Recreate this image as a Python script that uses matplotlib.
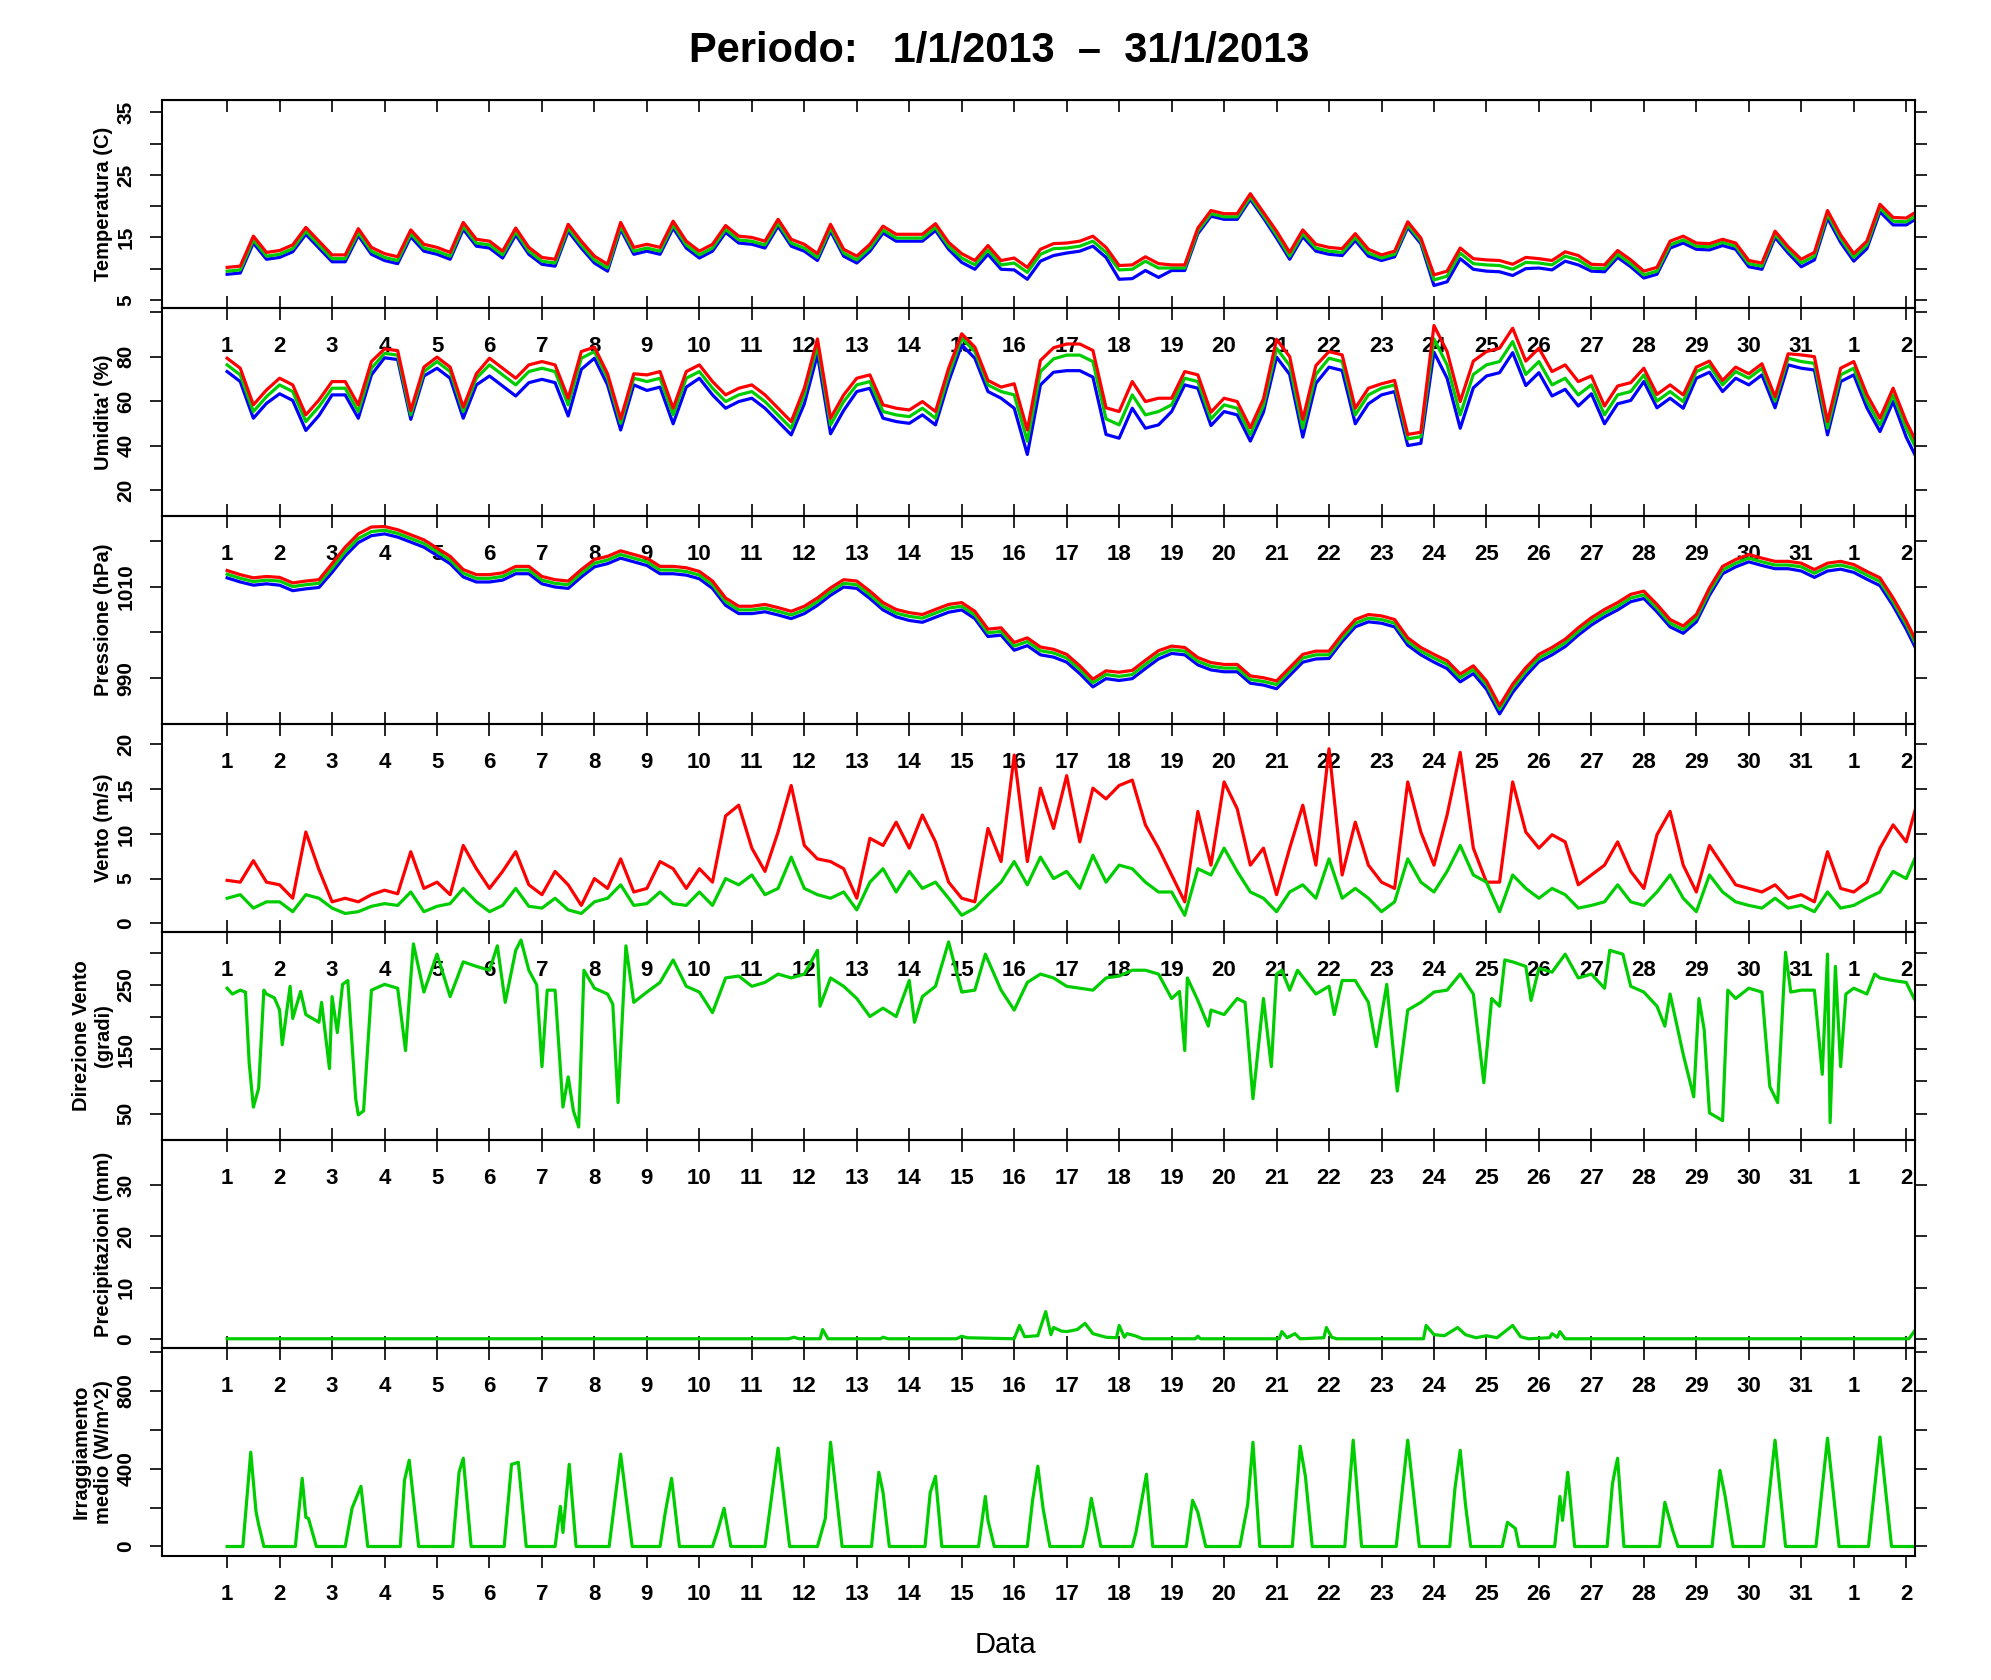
import numpy as np
import matplotlib
matplotlib.use("Agg")
import matplotlib.pyplot as plt

plt.rcParams['font.family'] = ['Liberation Sans', 'DejaVu Sans']

# ---- dati (passo 6 ore, dal giorno 1 alle 00) ----
temp_mean = [
    9.6, 9.8, 14.6, 12.0,   12.3, 13.2, 16.0, 13.8,   11.6, 11.6, 15.8, 12.8,
    11.8, 11.3, 15.6, 13.3, 12.8, 12.0, 16.8, 14.1,   13.8, 12.2, 15.9, 12.8,
    11.2, 10.9, 16.5, 13.8, 11.4, 10.1, 16.8, 12.8,   13.3, 12.8, 17.0, 13.8,
    12.2, 13.3, 16.3, 14.6, 14.4, 13.8, 17.3, 14.1,   13.3, 11.8, 16.5, 12.5,
    11.4, 13.3, 16.2, 14.9, 14.9, 14.9, 16.6, 13.6,   11.7, 10.6, 13.0, 10.6,
    10.9, 9.4, 12.3, 13.2,  13.3, 13.6, 14.4, 12.6,   9.8, 9.9, 11.2, 10.1,
    10.1, 10.1, 16.0, 18.8, 18.3, 18.3, 21.5, 18.5,   15.4, 12.0, 15.6, 13.3,
    12.8, 12.6, 15.0, 12.5, 11.7, 12.3, 17.0, 14.4,   8.2, 8.8, 12.5, 10.8,
    10.6, 10.5, 9.9, 11.0,  10.9, 10.6, 12.0, 11.4,   10.1, 10.0, 12.3, 10.8,
    9.0, 9.6, 13.8, 14.6,   13.6, 13.5, 14.2, 13.6,   10.8, 10.4, 15.5, 13.0,
    10.9, 12.0, 18.7, 14.8, 11.8, 13.8, 19.7, 17.6,   17.5, 18.8]
# scarto giornaliero di max e min rispetto alla media
temp_max_off = [0.6, 0.6, 0.6, 0.6, 0.6, 0.6, 0.6, 0.6, 0.6, 0.6, 0.6, 0.6, 0.6, 0.6, 0.7, 0.8, 0.8,
                0.7, 0.5, 0.5, 0.6, 0.6, 0.5, 0.8, 0.8, 0.7, 0.6, 0.6, 0.5, 0.5, 0.6, 0.6, 0.6]
temp_min_off = [0.5, 0.5, 0.5, 0.5, 0.5, 0.5, 0.5, 0.5, 0.5, 0.5, 0.5, 0.5, 0.5, 0.5, 0.7, 1.1, 0.8,
                1.5, 0.4, 0.4, 0.5, 0.5, 0.4, 0.9, 1.0, 0.8, 0.5, 0.5, 0.5, 0.5, 0.6, 0.6, 0.5]

hum_mean = [
    76.3, 71.8, 55.3, 62.0, 67.3, 64.3, 50.8, 57.5, 65.8, 65.8, 55.3, 74.8,
    81.5, 80.7, 53.8, 73.3, 77.8, 73.3, 55.3, 70.3, 76.3, 71.8, 67.3, 73.3,
    74.8, 73.3, 58.3, 79.3, 82.3, 70.3, 50.0, 70.3, 68.8, 70.3, 53.8, 70.3,
    73.3, 65.8, 59.8, 62.8, 64.3, 59.8, 53.8, 47.8, 62.8, 85.0, 49.3, 59.8,
    67.3, 68.8, 55.3, 53.8, 53.0, 56.8, 52.3, 71.8, 88.3, 82.3, 67.3, 64.3,
    62.8, 42.0, 73.3, 79.0, 80.7, 80.7, 77.8, 52.0, 49.3, 62.8, 53.8, 55.3,
    58.3, 70.3, 68.8, 52.0, 58.3, 56.8, 45.0, 58.0, 83.8, 76.0, 47.8, 72.0,
    79.3, 77.8, 53.8, 62.8, 65.8, 67.3, 43.0, 44.0, 88.0, 76.3, 53.8, 72.0,
    76.3, 77.8, 86.8, 72.0, 77.8, 67.3, 70.3, 62.8, 67.3, 53.8, 62.8, 64.3,
    71.8, 60.0, 64.3, 59.8, 73.3, 76.0, 67.3, 73.3, 70.3, 74.8, 60.0, 79.3,
    77.8, 77.0, 47.8, 71.8, 74.8, 60.0, 49.3, 62.8, 47.8, 35.8]
hum_max_off = [3, 3, 3, 2, 2, 3, 3, 2, 3, 3, 3, 3, 3, 3, 2, 5, 5, 6, 3, 3, 4, 3, 2, 6, 6, 6, 4, 3, 2, 2, 3, 3, 3]
hum_min_off = [3, 4, 3, 2, 3, 5, 5, 3, 4, 3, 3, 4, 3, 3, 3, 6, 7, 6, 3, 3, 4, 4, 3, 6, 5, 5, 4, 3, 3, 3, 3, 3, 4]

pres_mean = [
    1012.7, 1011.8, 1011.1, 1011.4, 1011.2, 1010.0, 1010.4, 1010.7,
    1014.0, 1017.6, 1020.5, 1022.0, 1022.3, 1021.6, 1020.5, 1019.4,
    1017.6, 1015.8, 1012.9, 1011.8, 1011.8, 1012.2, 1013.6, 1013.6,
    1011.4, 1010.7, 1010.4, 1012.9, 1015.1, 1015.8, 1017.0, 1016.2,
    1015.4, 1013.6, 1013.6, 1013.3, 1012.5, 1010.4, 1006.7, 1004.9,
    1004.9, 1005.3, 1004.6, 1003.8, 1004.9, 1006.7, 1008.9, 1010.7,
    1010.4, 1008.2, 1005.7, 1004.2, 1003.5, 1003.1, 1004.2, 1005.3,
    1005.7, 1003.8, 999.9, 1000.2, 997.0, 998.0, 996.0, 995.5,
    994.4, 991.9, 989.0, 990.8, 990.4, 990.8, 993.0, 995.1,
    996.2, 995.9, 993.7, 992.6, 992.2, 992.2, 989.7, 989.3,
    988.6, 991.5, 994.4, 995.1, 995.1, 998.8, 1002.0, 1003.1,
    1002.8, 1002.0, 998.0, 995.9, 994.4, 993.0, 990.1, 991.9,
    988.6, 983.2, 987.9, 991.5, 994.4, 995.9, 997.7, 1000.2,
    1002.4, 1004.2, 1005.7, 1007.5, 1008.2, 1005.3, 1002.0, 1000.6,
    1003.1, 1008.9, 1013.6, 1015.1, 1016.2, 1015.4, 1014.7, 1014.7,
    1014.3, 1012.9, 1014.3, 1014.7, 1014.0, 1012.5, 1011.1, 1006.7,
    1001.7, 995.9]
pres_max_off = [0.8, 0.8, 1.0, 0.8, 0.8, 0.8, 0.8, 0.8, 0.8, 0.8, 0.8, 0.8, 0.8, 0.8, 0.8, 0.8, 0.8,
                0.9, 0.8, 0.8, 0.8, 0.8, 0.8, 0.8, 0.8, 0.8, 0.8, 0.8, 0.8, 0.8, 0.8, 0.8, 0.8]
pres_min_off = [0.8, 0.9, 0.9, 0.8, 0.8, 0.8, 0.8, 0.8, 0.8, 0.8, 0.8, 0.8, 0.8, 0.9, 0.8, 0.9, 0.9,
                0.9, 0.8, 0.8, 0.9, 0.8, 0.8, 0.9, 1.0, 0.8, 0.8, 0.8, 0.8, 0.8, 0.9, 0.9, 1.0]

wind_max = [
    4.8, 4.6, 7.0, 4.6,   4.3, 2.8, 10.2, 6.0,  2.4, 2.8, 2.4, 3.2,   3.7, 3.3, 8.0, 3.9,
    4.6, 3.2, 8.7, 6.1,   3.9, 5.8, 8.0, 4.3,   3.2, 5.8, 4.3, 2.0,   5.0, 3.9, 7.2, 3.5,
    3.9, 6.9, 6.1, 3.9,   6.1, 4.6, 12.0, 13.2, 8.4, 5.8, 10.2, 15.4, 8.7, 7.2, 6.9, 6.1,
    2.8, 9.5, 8.7, 11.3,  8.4, 12.1, 9.1, 4.6,  2.8, 2.4, 10.6, 6.9,  18.8, 6.9, 15.1, 10.6,
    16.5, 9.1, 15.1, 13.9, 15.4, 16.0, 11.0, 8.4, 5.4, 2.4, 12.5, 6.5, 15.8, 12.8, 6.5, 8.4,
    3.2, 8.4, 13.2, 6.5,  19.5, 5.4, 11.3, 6.5, 4.6, 3.9, 15.8, 10.2, 6.5, 12.1, 19.1, 8.4,
    4.6, 4.6, 15.8, 10.2, 8.4, 9.9, 9.1, 4.3,   5.4, 6.5, 9.1, 5.8,   3.9, 9.9, 12.5, 6.5,
    3.5, 8.7, 6.5, 4.3,   3.9, 3.5, 4.3, 2.8,   3.2, 2.4, 8.0, 3.9,   3.5, 4.6, 8.4, 11.0,
    9.1, 14.3]
wind_mean = [
    2.8, 3.2, 1.7, 2.4,  2.4, 1.3, 3.2, 2.8,  1.7, 1.1, 1.3, 1.9,  2.2, 2.0, 3.5, 1.3,
    1.9, 2.2, 3.9, 2.4,  1.3, 2.0, 3.9, 1.9,  1.7, 2.8, 1.5, 1.1,  2.4, 2.8, 4.3, 2.0,
    2.2, 3.5, 2.2, 2.0,  3.5, 2.0, 5.0, 4.3,  5.4, 3.2, 3.9, 7.4,  3.9, 3.2, 2.8, 3.5,
    1.5, 4.6, 6.1, 3.5,  5.8, 3.9, 4.6, 2.8,  0.9, 1.7, 3.2, 4.6,  6.9, 4.3, 7.4, 5.0,
    5.8, 3.9, 7.6, 4.6,  6.5, 6.1, 4.6, 3.5,  3.5, 0.9, 6.1, 5.4,  8.4, 5.8, 3.5, 2.8,
    1.3, 3.5, 4.3, 2.8,  7.2, 2.8, 3.9, 2.8,  1.3, 2.4, 7.2, 4.6,  3.5, 5.8, 8.7, 5.4,
    4.6, 1.3, 5.4, 3.9,  2.8, 3.9, 3.2, 1.7,  2.0, 2.4, 4.3, 2.4,  2.0, 3.5, 5.4, 2.8,
    1.3, 5.4, 3.5, 2.4,  2.0, 1.7, 2.8, 1.7,  2.0, 1.3, 3.5, 1.7,  2.0, 2.8, 3.5, 5.8,
    5.0, 8.4]

# direzione del vento: istanti irregolari (giorni) e gradi
dir_day = [1.0, 1.1, 1.25, 1.35, 1.42, 1.5, 1.6, 1.7, 1.75, 1.9, 2.0, 2.05, 2.2, 2.25, 2.4, 2.5,
           2.75, 2.8, 2.95, 3.0, 3.1, 3.2, 3.3, 3.45, 3.5, 3.6, 3.75, 4.0, 4.25, 4.4, 4.5, 4.55,
           4.75, 5.0, 5.25, 5.5, 5.75, 6.0, 6.15, 6.3, 6.5, 6.6, 6.75, 6.9, 7.0, 7.1, 7.25, 7.4,
           7.5, 7.6, 7.7, 7.8, 8.0, 8.25, 8.35, 8.45, 8.6, 8.75, 9.0, 9.25, 9.5, 9.75, 10.0, 10.25,
           10.5, 10.75, 11.0, 11.25, 11.5, 11.75, 12.0, 12.25, 12.3, 12.5, 12.75, 13.0, 13.25, 13.5,
           13.75, 14.0, 14.1, 14.25, 14.5, 14.75, 15.0, 15.25, 15.45, 15.75, 16.0, 16.25, 16.5, 16.75,
           17.0, 17.25, 17.5, 17.75, 18.0, 18.25, 18.5, 18.75, 19.0, 19.15, 19.25, 19.3, 19.5, 19.7,
           19.75, 20.0, 20.25, 20.4, 20.55, 20.75, 20.9, 21.0, 21.1, 21.25, 21.4, 21.75, 22.0, 22.1,
           22.25, 22.5, 22.75, 22.9, 23.1, 23.3, 23.5, 23.75, 24.0, 24.25, 24.5, 24.75, 24.95, 25.1,
           25.25, 25.35, 25.5, 25.75, 25.85, 26.0, 26.25, 26.5, 26.75, 27.0, 27.25, 27.35, 27.6, 27.75,
           28.0, 28.25, 28.4, 28.5, 28.75, 28.95, 29.05, 29.15, 29.25, 29.5, 29.6, 29.75, 30.0, 30.25,
           30.4, 30.55, 30.7, 30.8, 31.0, 31.25, 31.4, 31.5, 31.55, 31.65, 31.75, 31.85, 32.0, 32.25,
           32.4, 32.5, 32.75, 33.0, 33.15]
dir_deg = [245, 236, 242, 239, 129, 60, 89, 242, 236, 230, 211, 157, 248, 198, 240, 204,
           192, 223, 120, 232, 176, 251, 257, 73, 48, 54, 242, 251, 245, 148, 261, 314,
           239, 298, 232, 286, 279, 273, 311, 223, 304, 320, 273, 250, 123, 242, 242, 60,
           107, 54, 29, 273, 245, 236, 220, 67, 311, 223, 239, 254, 289, 248, 239, 207,
           261, 264, 248, 254, 267, 261, 267, 304, 217, 261, 248, 229, 201, 214,
           201, 257, 192, 232, 248, 317, 239, 242, 298, 242, 211, 254, 267, 261,
           248, 245, 242, 261, 264, 273, 273, 267, 229, 240, 148, 261, 226, 186,
           211, 204, 229, 223, 73, 229, 123, 267, 273, 242, 273, 236, 248, 204,
           257, 257, 223, 154, 251, 85, 211, 223, 239, 242, 267, 236, 98, 229,
           217, 289, 286, 279, 226, 276, 270, 298, 261, 267, 245, 304, 298, 248,
           239, 217, 186, 236, 142, 76, 229, 180, 51, 39, 242, 229, 245, 239,
           92, 67, 301, 239, 242, 242, 111, 298, 36, 279, 123, 236, 245, 236,
           267, 261, 257, 254, 229]

prec_day = [1.0, 11.7, 11.8, 11.9, 12.3, 12.35, 12.45, 13.45, 13.5, 13.6, 14.9, 15.0, 15.1, 16.0,
            16.1, 16.2, 16.45, 16.6, 16.7, 16.75, 16.9, 17.0, 17.2, 17.35, 17.5, 17.75, 17.95, 18.0,
            18.1, 18.15, 18.3, 18.45, 19.45, 19.5, 19.55, 21.05, 21.1, 21.2, 21.35, 21.45, 21.9, 21.95,
            22.05, 22.15, 23.8, 23.85, 24.0, 24.2, 24.45, 24.6, 24.8, 25.0, 25.2, 25.5, 25.65, 25.8,
            26.2, 26.25, 26.35, 26.4, 26.5, 33.05, 33.15]
prec_mm = [0, 0, 0.3, 0, 0, 1.8, 0, 0, 0.3, 0, 0, 0.5, 0.2, 0,
           2.6, 0.4, 0.6, 5.3, 0.8, 2.2, 1.5, 1.4, 1.8, 3.0, 1.0, 0.3, 0.2, 2.6,
           0.3, 1.0, 0.6, 0, 0, 0.5, 0, 0, 1.4, 0.2, 1.0, 0, 0.2, 2.2,
           0.3, 0, 0, 2.6, 0.8, 0.6, 2.2, 0.8, 0.2, 0.6, 0.2, 2.6, 0.4, 0,
           0.2, 1.0, 0.3, 1.4, 0, 0, 1.4]

rad_day = [1.0, 1.3, 1.45, 1.55, 1.6, 1.7, 2.3, 2.43, 2.5, 2.55, 2.7, 3.25, 3.38, 3.55, 3.68,
           4.3, 4.38, 4.47, 4.52, 4.65, 5.3, 5.42, 5.5, 5.65, 6.28, 6.42, 6.55, 6.7,
           7.25, 7.35, 7.4, 7.52, 7.65, 8.28, 8.5, 8.72, 9.25, 9.35, 9.47, 9.62,
           10.25, 10.35, 10.47, 10.6, 11.25, 11.5, 11.72, 12.25, 12.4, 12.5, 12.72,
           13.28, 13.42, 13.5, 13.62, 14.3, 14.4, 14.5, 14.62, 15.32, 15.45, 15.5, 15.62,
           16.25, 16.35, 16.45, 16.55, 16.68, 17.3, 17.38, 17.47, 17.65, 18.25, 18.32, 18.52, 18.64,
           19.28, 19.4, 19.5, 19.65, 20.3, 20.45, 20.55, 20.68, 21.3, 21.45, 21.55, 21.68,
           22.3, 22.46, 22.62, 23.28, 23.5, 23.72, 24.3, 24.4, 24.5, 24.6, 24.7,
           25.3, 25.4, 25.55, 25.62, 26.3, 26.4, 26.45, 26.55, 26.68, 27.3, 27.4, 27.45, 27.5, 27.62,
           28.3, 28.4, 28.55, 28.65, 29.3, 29.45, 29.55, 29.7, 30.28, 30.5, 30.7,
           31.28, 31.5, 31.72, 32.28, 32.5, 32.72, 33.15]
rad_wm2 = [0, 0, 484, 180, 113, 0, 0, 350, 150, 144, 0, 0, 196, 309, 0,
           0, 340, 443, 319, 0, 0, 381, 453, 0, 0, 422, 432, 0,
           0, 206, 72, 422, 0, 0, 474, 0, 0, 175, 350, 0,
           0, 82, 196, 0, 0, 505, 0, 0, 144, 535, 0,
           0, 381, 278, 0, 0, 278, 360, 0, 0, 257, 134, 0,
           0, 237, 412, 196, 0, 0, 93, 247, 0, 0, 72, 371, 0,
           0, 237, 175, 0, 0, 216, 535, 0, 0, 515, 360, 0,
           0, 546, 0, 0, 546, 0, 0, 299, 494, 216, 0,
           0, 124, 93, 0, 0, 257, 134, 381, 0, 0, 319, 391, 453, 0,
           0, 227, 82, 0, 0, 391, 257, 0, 0, 546, 0,
           0, 556, 0, 0, 562, 0, 0]

day_pos = list(range(1, 34))
day_labels = [str(d) for d in range(1, 32)] + ['1', '2']

RED, GREEN, BLUE = '#FF0000', '#00CD00', '#0000FF'
LW = 2.3

t6 = 1 + np.arange(len(temp_mean)) / 4.0


def spread(mean, off):
    return np.asarray(mean) + np.repeat(off, 4)[:len(mean)]


fig = plt.figure(figsize=(19.91, 16.8), dpi=100)
H = 1680.0
top_px, h_px = 100, 208
axes = []
for i in range(7):
    y0 = 1 - (top_px + (i + 1) * h_px) / H
    ax = fig.add_axes([0.0814, y0, 0.8805, h_px / H])
    ax.patch.set_visible(False)
    axes.append(ax)

# 1 temperatura
ax = axes[0]
ax.plot(t6, spread(temp_mean, -np.array(temp_min_off)), color=BLUE, lw=LW)
ax.plot(t6, temp_mean, color=GREEN, lw=LW)
ax.plot(t6, spread(temp_mean, temp_max_off), color=RED, lw=LW)
ax.set_ylim(3.7, 37.0)
ax.set_yticks([5, 10, 15, 20, 25, 30, 35])
ax.set_yticklabels(['5', '', '15', '', '25', '', '35'])
ax.set_ylabel('Temperatura (C)')

# 2 umidita
ax = axes[1]
ax.plot(t6, spread(hum_mean, -np.array(hum_min_off)), color=BLUE, lw=LW)
ax.plot(t6, hum_mean, color=GREEN, lw=LW)
ax.plot(t6, spread(hum_mean, hum_max_off), color=RED, lw=LW)
ax.set_ylim(8.3, 101.9)
ax.set_yticks([20, 40, 60, 80, 100])
ax.set_yticklabels(['20', '40', '60', '80', ''])
ax.set_ylabel("Umidita' (%)")

# 3 pressione
ax = axes[2]
ax.plot(t6, spread(pres_mean, -np.array(pres_min_off)), color=BLUE, lw=LW)
ax.plot(t6, pres_mean, color=GREEN, lw=LW)
ax.plot(t6, spread(pres_mean, pres_max_off), color=RED, lw=LW)
ax.set_ylim(980.0, 1025.4)
ax.set_yticks([990, 1000, 1010, 1020])
ax.set_yticklabels(['990', '', '1010', ''])
ax.set_ylabel('Pressione (hPa)')

# 4 vento
ax = axes[3]
ax.plot(t6, wind_max, color=RED, lw=LW)
ax.plot(t6, wind_mean, color=GREEN, lw=LW)
ax.set_ylim(-0.97, 22.27)
ax.set_yticks([0, 5, 10, 15, 20])
ax.set_yticklabels(['0', '5', '10', '15', '20'])
ax.set_ylabel('Vento (m/s)')

# 5 direzione
ax = axes[4]
ax.plot(dir_day, dir_deg, color=GREEN, lw=LW)
ax.set_ylim(8.8, 332.5)
ax.set_yticks([50, 100, 150, 200, 250, 300])
ax.set_yticklabels(['50', '', '150', '', '250', ''])
ax.set_ylabel('Direzione Vento\n(gradi)')

# 6 precipitazioni
ax = axes[5]
ax.plot(prec_day, prec_mm, color=GREEN, lw=LW)
ax.set_ylim(-1.8, 38.8)
ax.set_yticks([0, 10, 20, 30])
ax.set_yticklabels(['0', '10', '20', '30'])
ax.set_ylabel('Precipitazioni (mm)')

# 7 irraggiamento
ax = axes[6]
ax.plot(rad_day, rad_wm2, color=GREEN, lw=LW)
ax.set_ylim(-48.8, 1019)
ax.set_yticks([0, 200, 400, 600, 800, 1000])
ax.set_yticklabels(['0', '', '400', '', '800', ''])
ax.set_ylabel('Irraggiamento\nmedio (W/m^2)')

for i, ax in enumerate(axes):
    ax.set_xlim(-0.24, 33.17)
    ax.set_xticks(day_pos)
    ax.set_xticklabels(day_labels)
    last = (i == 6)
    ax.tick_params(axis='x', direction='out' if last else 'inout',
                   length=8.6 if last else 17.2, width=1.2, pad=11.5,
                   labelsize=16, colors='black')
    ax.tick_params(axis='y', direction='out', length=8.6, width=1.2, pad=10.5,
                   labelsize=15, right=True, labelright=False)
    for lab in ax.get_xticklabels() + ax.get_yticklabels():
        lab.set_fontweight('bold')
    for lab in ax.get_yticklabels():
        lab.set_rotation(90)
        lab.set_va('center')
    for sp in ax.spines.values():
        sp.set_linewidth(1.5)
    ax.yaxis.label.set_fontsize(14.5)
    ax.yaxis.label.set_fontweight('bold')
    ax.yaxis.set_label_coords(-0.028, 0.5)

# tacche interne sul bordo superiore del primo pannello
top = axes[0].secondary_xaxis('top')
top.set_xticks(day_pos)
top.tick_params(direction='in', length=8.6, width=1.2, labeltop=False)

fig.text(0.502, 0.9696, 'Periodo:   1/1/2013  \u2013  31/1/2013',
         ha='center', va='center', fontsize=30, fontweight='bold')
fig.text(0.505, 0.0208, 'Data', ha='center', va='center', fontsize=21)

fig.savefig('out.png', dpi=100)
